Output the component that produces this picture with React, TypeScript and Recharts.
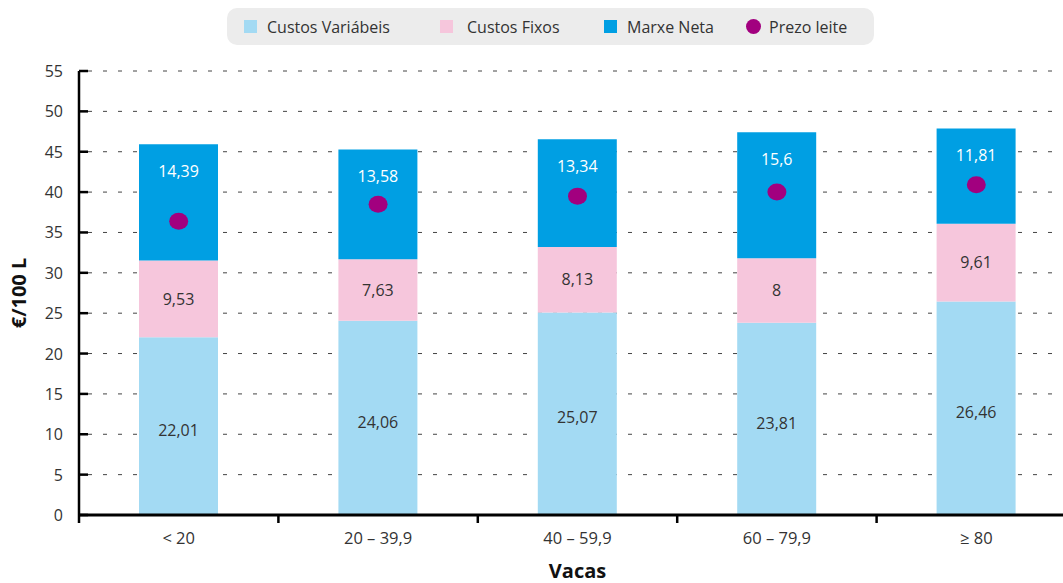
import React from "react";
import { ComposedChart, Bar, Line, XAxis, YAxis, CartesianGrid, LabelList } from "recharts";

const categories = ["< 20", "20 – 39,9", "40 – 59,9", "60 – 79,9", "≥ 80"];
const custosVariabeis = [22.01, 24.06, 25.07, 23.81, 26.46];
const custosFixos = [9.53, 7.63, 8.13, 8, 9.61];
const marxeNeta = [14.39, 13.58, 13.34, 15.6, 11.81];
const prezoLeite = [36.4, 38.5, 39.5, 40.0, 40.9];
const yTicks = [0, 5, 10, 15, 20, 25, 30, 35, 40, 45, 50, 55];

const data = categories.map((c, i) => ({
  cat: c,
  variabeis: custosVariabeis[i],
  fixos: custosFixos[i],
  marxe: marxeNeta[i],
  prezo: prezoLeite[i],
}));

const FONT = "'Open Sans', sans-serif";
const C_VAR = "#a3daf3";
const C_FIX = "#f6c6dc";
const C_MAR = "#009fe3";
const C_PRE = "#a2007f";

const W = 1080;
const H = 583;
const M = { top: 71, right: 4, left: 0, bottom: 0 };
const Y_AXIS_W = 79;
const BAND = (W - M.left - M.right - Y_AXIS_W) / categories.length;

const fmt = (v: any) => String(v).replace(".", ",");

const YTick = ({ x, y, payload }: any) => (
  <g>
    <line x1={x} x2={x + 9} y1={y} y2={y} stroke="#000" strokeWidth={2.5} />
    <text x={x - 16} y={y} dy={6} textAnchor="end" fontSize={16} fill="#333" fontFamily={FONT}>
      {payload.value}
    </text>
  </g>
);

const XTick = ({ x, y, payload, index }: any) => (
  <g>
    <line x1={x - BAND / 2} x2={x - BAND / 2} y1={y} y2={y + 8} stroke="#000" strokeWidth={2.5} />
    {index === categories.length - 1 && (
      <line x1={x + BAND / 2} x2={x + BAND / 2} y1={y} y2={y + 8} stroke="#000" strokeWidth={2.5} />
    )}
    <text x={x} y={y + 29} textAnchor="middle" fontSize={16.5} fill="#333" fontFamily={FONT}>
      {payload.value}
    </text>
  </g>
);

const YLabel = ({ viewBox }: any) => {
  const cx = 19;
  const cy = viewBox.y + viewBox.height / 2;
  return (
    <text x={cx} y={cy} transform={`rotate(-90, ${cx}, ${cy})`} textAnchor="middle" dy={7}
      fontSize={20} fontWeight="bold" fill="#111" fontFamily={FONT}>
      €/100 L
    </text>
  );
};

const legendItems = [
  { label: "Custos Variábeis", color: C_VAR, circle: false, left: 17 },
  { label: "Custos Fixos", color: C_FIX, circle: false, left: 213 },
  { label: "Marxe Neta", color: C_MAR, circle: false, left: 377 },
  { label: "Prezo leite", color: C_PRE, circle: true, left: 519 },
];

export default function App() {
  return (
    <div style={{ position: "fixed", left: 0, top: 0, width: 1063, height: H, overflow: "hidden", background: "#fff" }}>
      <div style={{
        position: "absolute", left: 227, top: 8, width: 647, height: 37, borderRadius: 10,
        background: "#ececec", fontFamily: FONT, fontSize: 16, color: "#333",
      }}>
        {legendItems.map((it) => (
          <div key={it.label} style={{ position: "absolute", left: it.left, top: 0, height: 37, display: "flex", alignItems: "center" }}>
            <span style={{
              display: "inline-block", width: it.circle ? 15 : 13, height: it.circle ? 15 : 13,
              borderRadius: it.circle ? "50%" : 0, background: it.color, marginRight: it.circle ? 8 : (it.left === 213 ? 14 : 10),
            }} />
            <span>{it.label}</span>
          </div>
        ))}
      </div>
      <ComposedChart width={W} height={H} data={data} margin={M}>
        <CartesianGrid horizontal vertical={false} stroke="#444" strokeDasharray="4 11"
          x={M.left + Y_AXIS_W + 9} width={W - M.right - M.left - Y_AXIS_W - 9} />
        <XAxis dataKey="cat" tick={<XTick />} tickLine={false} tickSize={0} tickMargin={0}
          axisLine={{ stroke: "#000", strokeWidth: 3 }} height={68}
          label={{ value: "Vacas", position: "insideBottom", offset: 5, fontSize: 20, fontWeight: "bold", fill: "#111", fontFamily: FONT }} />
        <YAxis domain={[0, 55]} ticks={yTicks} tick={<YTick />} tickLine={false} tickSize={0} tickMargin={0}
          width={Y_AXIS_W} axisLine={{ stroke: "#000", strokeWidth: 2.5 }} interval={0}
          label={<YLabel />} />
        <Bar dataKey="variabeis" stackId="a" fill={C_VAR} barSize={79} isAnimationActive={false}>
          <LabelList dataKey="variabeis" position="center" dy={4} formatter={fmt} fill="#333" fontSize={16} fontFamily={FONT} />
        </Bar>
        <Bar dataKey="fixos" stackId="a" fill={C_FIX} barSize={79} isAnimationActive={false}>
          <LabelList dataKey="fixos" position="center" formatter={fmt} fill="#333" fontSize={16} fontFamily={FONT} />
        </Bar>
        <Bar dataKey="marxe" stackId="a" fill={C_MAR} barSize={79} isAnimationActive={false}>
          <LabelList dataKey="marxe" position="insideTop" offset={21} formatter={fmt} fill="#fff" fontSize={16} fontFamily={FONT} />
        </Bar>
        <Line dataKey="prezo" stroke="none" isAnimationActive={false} activeDot={false}
          dot={(p: any) => <ellipse key={`d${p.index}`} cx={p.cx} cy={p.cy} rx={9.5} ry={8.5} fill={C_PRE} />} />
      </ComposedChart>
    </div>
  );
}
